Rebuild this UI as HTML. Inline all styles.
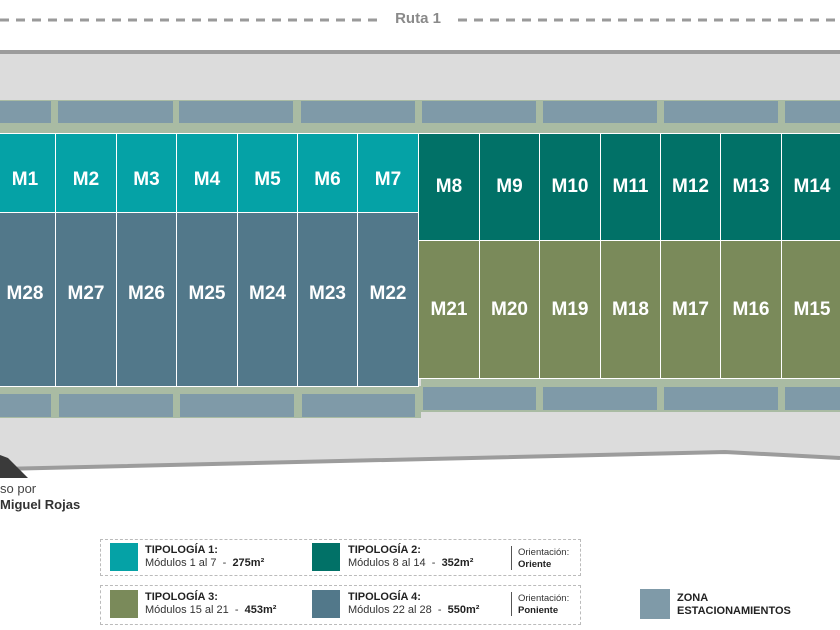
<!DOCTYPE html>
<html><head><meta charset="utf-8"><style>
body{margin:0;width:840px;height:630px;overflow:hidden;background:#fff;font-family:"Liberation Sans",sans-serif;position:relative}
.a{position:absolute}
.m{position:absolute;color:#fff;font-weight:bold;font-size:19px;display:flex;align-items:center;justify-content:center;box-sizing:border-box;border:1px solid #fff}
.t1{padding-top:14px}
.t4{padding-bottom:12px}
.p{position:absolute;background:#7f9aa8}
.lg{position:absolute;font-size:11px;color:#333;line-height:13px}
.lg b{color:#222}
.sw{position:absolute;width:28px;height:28px}
</style></head><body>
<svg class="a" style="left:0;top:0" width="840" height="630">
<line x1="0" y1="20" x2="378" y2="20" stroke="#9a9a9a" stroke-width="3" stroke-dasharray="9,7"/>
<line x1="458" y1="20" x2="840" y2="20" stroke="#9a9a9a" stroke-width="3" stroke-dasharray="9,7"/>
<polygon points="0,53 840,53 840,458 725,452 0,469" fill="#dcdcdc"/>
<rect x="0" y="50" width="840" height="4" fill="#9c9c9c"/>
<polyline points="0,469 725,452 840,458" fill="none" stroke="#9c9c9c" stroke-width="4"/>
<rect x="0" y="100" width="840" height="33" fill="#a9bba3"/>
<rect x="0" y="386" width="421" height="32" fill="#a9bba3"/>
<rect x="421" y="378" width="419" height="34" fill="#a9bba3"/>
<polygon points="0,455 0,478 28,478 8,458" fill="#3a3a3a"/>
</svg>
<div class="a" style="left:380px;top:10px;width:76px;text-align:center;font-size:15px;font-weight:bold;color:#8a8a8a;background:#fff">Ruta 1</div>
<div class="p" style="left:0;top:101px;width:51px;height:22px"></div>
<div class="p" style="left:58px;top:101px;width:115px;height:22px"></div>
<div class="p" style="left:179px;top:101px;width:114px;height:22px"></div>
<div class="p" style="left:301px;top:101px;width:114px;height:22px"></div>
<div class="p" style="left:422px;top:101px;width:114px;height:22px"></div>
<div class="p" style="left:543px;top:101px;width:114px;height:22px"></div>
<div class="p" style="left:664px;top:101px;width:114px;height:22px"></div>
<div class="p" style="left:785px;top:101px;width:55px;height:22px"></div>
<div class="p" style="left:0;top:394px;width:51px;height:23px"></div>
<div class="p" style="left:59px;top:394px;width:114px;height:23px"></div>
<div class="p" style="left:180px;top:394px;width:114px;height:23px"></div>
<div class="p" style="left:302px;top:394px;width:113px;height:23px"></div>
<div class="p" style="left:423px;top:387px;width:113px;height:23px"></div>
<div class="p" style="left:543px;top:387px;width:114px;height:23px"></div>
<div class="p" style="left:664px;top:387px;width:114px;height:23px"></div>
<div class="p" style="left:785px;top:387px;width:55px;height:23px"></div>

<div class="m t1" style="left:-6px;top:133px;width:62px;height:80px;background:#05a2a6">M1</div>
<div class="m t1" style="left:55px;top:133px;width:62px;height:80px;background:#05a2a6">M2</div>
<div class="m t1" style="left:116px;top:133px;width:61px;height:80px;background:#05a2a6">M3</div>
<div class="m t1" style="left:176px;top:133px;width:62px;height:80px;background:#05a2a6">M4</div>
<div class="m t1" style="left:237px;top:133px;width:61px;height:80px;background:#05a2a6">M5</div>
<div class="m t1" style="left:297px;top:133px;width:61px;height:80px;background:#05a2a6">M6</div>
<div class="m t1" style="left:357px;top:133px;width:62px;height:80px;background:#05a2a6">M7</div>
<div class="m t4" style="left:-6px;top:212px;width:62px;height:175px;background:#52788a">M28</div>
<div class="m t4" style="left:55px;top:212px;width:62px;height:175px;background:#52788a">M27</div>
<div class="m t4" style="left:116px;top:212px;width:61px;height:175px;background:#52788a">M26</div>
<div class="m t4" style="left:176px;top:212px;width:62px;height:175px;background:#52788a">M25</div>
<div class="m t4" style="left:237px;top:212px;width:61px;height:175px;background:#52788a">M24</div>
<div class="m t4" style="left:297px;top:212px;width:61px;height:175px;background:#52788a">M23</div>
<div class="m t4" style="left:357px;top:212px;width:62px;height:175px;background:#52788a">M22</div>
<div class="m" style="left:418px;top:133px;width:62px;height:108px;background:#017167">M8</div>
<div class="m" style="left:479px;top:133px;width:61px;height:108px;background:#017167">M9</div>
<div class="m" style="left:539px;top:133px;width:62px;height:108px;background:#017167">M10</div>
<div class="m" style="left:600px;top:133px;width:61px;height:108px;background:#017167">M11</div>
<div class="m" style="left:660px;top:133px;width:61px;height:108px;background:#017167">M12</div>
<div class="m" style="left:720px;top:133px;width:62px;height:108px;background:#017167">M13</div>
<div class="m" style="left:781px;top:133px;width:62px;height:108px;background:#017167">M14</div>
<div class="m" style="left:418px;top:240px;width:62px;height:139px;background:#7a8a5a">M21</div>
<div class="m" style="left:479px;top:240px;width:61px;height:139px;background:#7a8a5a">M20</div>
<div class="m" style="left:539px;top:240px;width:62px;height:139px;background:#7a8a5a">M19</div>
<div class="m" style="left:600px;top:240px;width:61px;height:139px;background:#7a8a5a">M18</div>
<div class="m" style="left:660px;top:240px;width:61px;height:139px;background:#7a8a5a">M17</div>
<div class="m" style="left:720px;top:240px;width:62px;height:139px;background:#7a8a5a">M16</div>
<div class="m" style="left:781px;top:240px;width:62px;height:139px;background:#7a8a5a">M15</div>

<div class="a" style="left:0;top:481px;font-size:13px;color:#444">so por</div>
<div class="a" style="left:0;top:497px;font-size:13px;font-weight:bold;color:#333">Miguel Rojas</div>

<div class="a" style="left:100px;top:539px;width:481px;height:37px;border:1px dashed #bbb;box-sizing:border-box"></div>
<div class="a" style="left:100px;top:585px;width:481px;height:40px;border:1px dashed #bbb;box-sizing:border-box"></div>
<div class="sw" style="left:110px;top:543px;background:#05a2a6"></div>
<div class="sw" style="left:312px;top:543px;background:#017167"></div>
<div class="sw" style="left:110px;top:590px;background:#7a8a5a"></div>
<div class="sw" style="left:312px;top:590px;background:#52788a"></div>
<div class="sw" style="left:640px;top:589px;width:30px;height:30px;background:#7f9aa8"></div>
<div class="lg" style="left:145px;top:544px"><b>TIPOLOGÍA 1:</b><br>Módulos 1 al 7 &nbsp;- &nbsp;<b>275m²</b></div>
<div class="lg" style="left:348px;top:544px"><b>TIPOLOGÍA 2:</b><br>Módulos 8 al 14 &nbsp;- &nbsp;<b>352m²</b></div>
<div class="lg" style="left:145px;top:591px"><b>TIPOLOGÍA 3:</b><br>Módulos 15 al 21 &nbsp;- &nbsp;<b>453m²</b></div>
<div class="lg" style="left:348px;top:591px"><b>TIPOLOGÍA 4:</b><br>Módulos 22 al 28 &nbsp;- &nbsp;<b>550m²</b></div>
<div class="a" style="left:511px;top:546px;width:1px;height:24px;background:#555"></div>
<div class="a" style="left:511px;top:592px;width:1px;height:24px;background:#555"></div>
<div class="lg" style="left:518px;top:547px;font-size:9.5px;line-height:12px">Orientación:<br><b>Oriente</b></div>
<div class="lg" style="left:518px;top:593px;font-size:9.5px;line-height:12px">Orientación:<br><b>Poniente</b></div>
<div class="lg" style="left:677px;top:592px"><b>ZONA<br>ESTACIONAMIENTOS</b></div>
</body></html>
